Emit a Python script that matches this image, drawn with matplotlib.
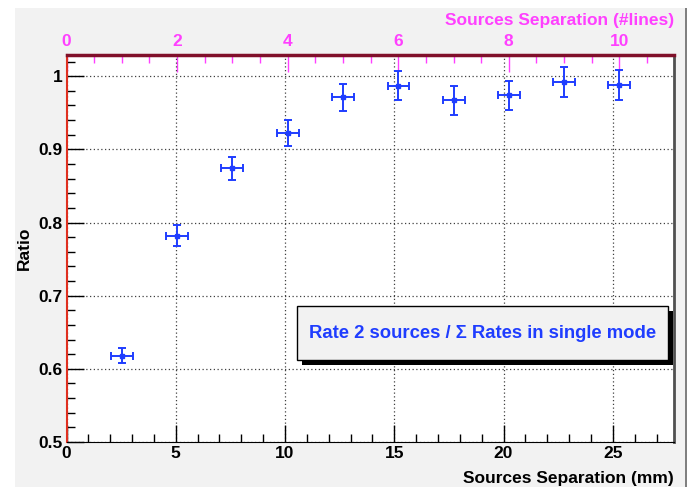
import numpy as np
import matplotlib.pyplot as plt
from matplotlib.patches import Rectangle
from matplotlib.ticker import MultipleLocator

# data
sep_mm = [2.53, 5.06, 7.59, 10.13, 12.66, 15.19, 17.73, 20.26, 22.78, 25.3]
ratio = [0.618, 0.782, 0.874, 0.922, 0.971, 0.987, 0.967, 0.974, 0.992, 0.988]
ratio_err = [0.010, 0.014, 0.016, 0.018, 0.019, 0.020, 0.020, 0.020, 0.020, 0.020]
sep_err = [0.5] * 10
mm_per_line = 2.53
x_ticks = [0, 5, 10, 15, 20, 25]
y_ticks = [0.5, 0.6, 0.7, 0.8, 0.9, 1.0]
y_ticklabels = ['0.5', '0.6', '0.7', '0.8', '0.9', '1']
line_ticks = [0, 2, 4, 6, 8, 10]

plt.rcParams['font.family'] = ['Liberation Sans', 'DejaVu Sans']
plt.rcParams['font.weight'] = 'bold'
fs = 12.5

fig = plt.figure(figsize=(6.91, 4.87), dpi=100)
fig.patches.append(Rectangle((15 / 691, 0), 670 / 691, 1 - 8 / 487, transform=fig.transFigure,
                             facecolor='#f2f2f2', edgecolor='none', zorder=-10))
fig.patches.append(Rectangle((685 / 691, 0), 2 / 691, 1 - 8 / 487, transform=fig.transFigure,
                             facecolor='#808080', edgecolor='none', zorder=-9))

ax = fig.add_axes([66.5 / 691, 45 / 487, (674 - 66.5) / 691, (442 - 55) / 487])
ax.set_facecolor('white')
ax.set_xlim(0, 27.8)
ax.set_ylim(0.5, 1.029)

blue = '#1f3dff'
ax.errorbar(sep_mm, ratio, yerr=ratio_err, xerr=sep_err, fmt='s', ms=3, color=blue,
            ecolor=blue, elinewidth=1.4, capsize=3, capthick=1.4, zorder=5)

ax.set_xticks(x_ticks)
ax.set_xticklabels([str(t) for t in x_ticks], fontweight='bold', fontsize=fs)
ax.set_yticks(y_ticks)
ax.set_yticklabels(y_ticklabels, fontweight='bold', fontsize=fs)
ax.xaxis.set_minor_locator(MultipleLocator(1))
ax.yaxis.set_minor_locator(MultipleLocator(0.02))
ax.tick_params(axis='both', which='major', direction='in', length=12, width=1, pad=3)
ax.tick_params(axis='both', which='minor', direction='in', length=6, width=1)
ax.tick_params(axis='x', which='both', top=False)
ax.tick_params(axis='y', which='both', right=False)
ax.grid(True, which='major', linestyle=(0, (1, 2)), color='#404040', linewidth=0.9)

ax.spines['left'].set_color('#e03020')
ax.spines['left'].set_linewidth(1.5)
ax.spines['top'].set_color('#80102a')
ax.spines['top'].set_linewidth(2.5)
ax.spines['right'].set_color('#505050')
ax.spines['right'].set_linewidth(2)
ax.spines['bottom'].set_color('black')

ax.set_ylabel('Ratio', fontsize=fs, fontweight='bold')
ax.yaxis.set_label_coords(-0.057, 0.50)
ax.set_xlabel('Sources Separation (mm)', fontsize=fs, fontweight='bold')
ax.xaxis.set_label_coords(1.0, -0.075)
ax.xaxis.label.set_horizontalalignment('right')

# top axis in number of lines
magenta = '#ff40ff'
top = ax.secondary_xaxis('top', functions=(lambda x: x / mm_per_line, lambda x: x * mm_per_line))
top.set_xticks(line_ticks)
top.set_xticklabels([str(t) for t in line_ticks], fontweight='bold', fontsize=fs)
top.xaxis.set_minor_locator(MultipleLocator(0.5))
top.tick_params(which='major', direction='in', length=12, width=1, colors=magenta, pad=4)
top.tick_params(which='minor', direction='in', length=6, width=1, colors=magenta)
top.spines['top'].set_visible(False)
fig.text(674 / 691, 1 - 20 / 487, 'Sources Separation (#lines)', fontsize=fs, fontweight='bold',
         color=magenta, ha='right', va='center')

# text box with shadow
bx0, by0, bw, bh = 296.7, 306, 371.3, 54
fig.patches.append(Rectangle(((bx0 + 5) / 691, (487 - by0 - bh - 5) / 487), bw / 691, bh / 487,
                             transform=fig.transFigure, facecolor='black', edgecolor='none', zorder=6))
fig.patches.append(Rectangle((bx0 / 691, (487 - by0 - bh) / 487), bw / 691, bh / 487,
                             transform=fig.transFigure, facecolor='#f2f2f2', edgecolor='black',
                             linewidth=1, zorder=7))
fig.text((bx0 + bw / 2) / 691, (487 - by0 - bh / 2) / 487,
         'Rate 2 sources / \u03a3 Rates in single mode', color=blue, fontsize=13.3,
         fontweight='bold', ha='center', va='center', zorder=8)

fig.savefig('out.png', dpi=100)
